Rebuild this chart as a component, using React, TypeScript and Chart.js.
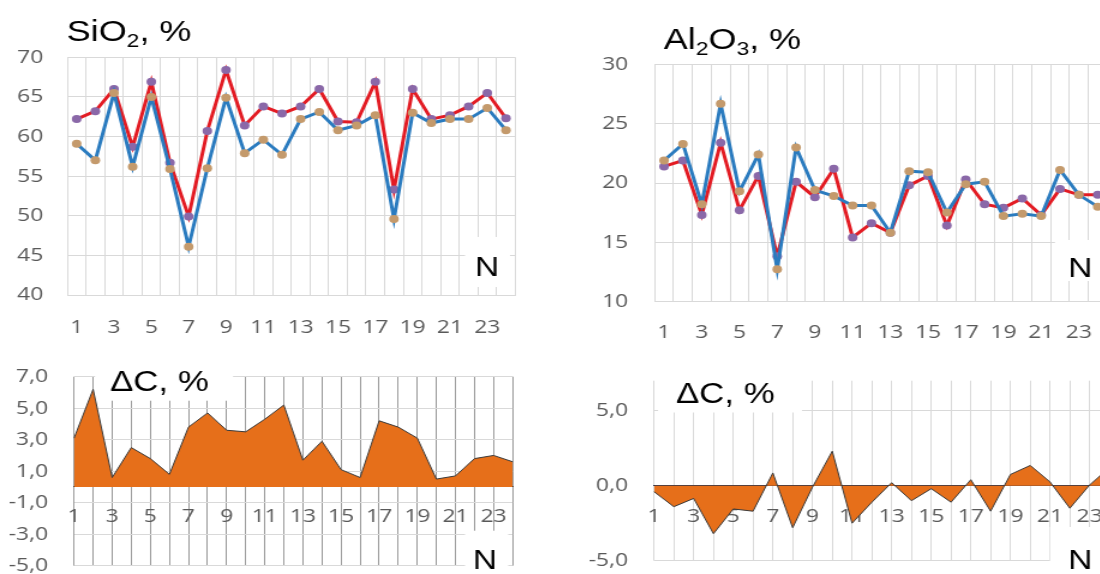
import React, { useEffect, useRef } from 'react';
import { Chart, registerables } from 'chart.js';
Chart.register(...registerables);

// horizontal stretch of the original figure
const S = 1.2;

const categories = ['1','2','3','4','5','6','7','8','9','10','11','12','13','14','15','16','17','18','19','20','21','22','23','24'];

const sio2Red = [62.2, 63.2, 66.0, 58.7, 66.9, 56.7, 49.9, 60.7, 68.4, 61.4, 63.8, 62.9, 63.8, 66.0, 61.9, 61.8, 66.9, 53.3, 66.0, 62.2, 62.7, 63.8, 65.5, 62.3];
const sio2Blue = [59.1, 57.0, 65.5, 56.2, 65.0, 55.9, 46.1, 56.0, 64.9, 57.9, 59.6, 57.7, 62.2, 63.1, 60.8, 61.4, 62.7, 49.6, 63.0, 61.7, 62.2, 62.2, 63.6, 60.8];

const al2o3Red = [21.4, 21.9, 17.3, 23.4, 17.7, 20.6, 13.8, 20.1, 18.8, 21.2, 15.4, 16.6, 15.8, 19.8, 20.6, 16.4, 20.3, 18.2, 17.9, 18.7, 17.3, 19.5, 19.0, 19.0];
const al2o3Blue = [21.9, 23.3, 18.2, 26.7, 19.3, 22.4, 12.7, 23.0, 19.4, 18.9, 18.1, 18.1, 15.8, 21.0, 20.9, 17.5, 19.9, 20.1, 17.2, 17.4, 17.2, 21.1, 19.0, 18.0];

const deltaSiO2 = [3.1, 6.2, 0.6, 2.5, 1.8, 0.8, 3.8, 4.7, 3.6, 3.5, 4.3, 5.2, 1.7, 2.9, 1.1, 0.6, 4.2, 3.8, 3.1, 0.5, 0.7, 1.8, 2.0, 1.6];
const deltaAl2O3 = [-0.4, -1.4, -0.85, -3.2, -1.55, -1.7, 0.85, -2.8, -0.1, 2.3, -2.5, -1.1, 0.2, -1.0, -0.2, -1.1, 0.4, -1.7, 0.75, 1.35, 0.25, -1.5, 0.05, 1.2];

const deltaTicks2 = [-5, 0, 5];

const RED = '#E31B23';
const BLUE = '#2A7BBF';
const PURPLE = '#8A68A8';
const TAN = '#C49A6C';
const ORANGE = '#E66F1A';
const GRID = '#d9d9d9';
const TICK = '#595959';
const TICK_FONT = { family: "'Open Sans', sans-serif", size: 19 };
const TEXT_FONT = '"Liberation Sans", Arial, sans-serif';

type Part = { t: string; size: number; dy?: number };
type Txt = { x: number; y: number; parts: Part[] };

function decor(boxes: number[][], texts: Txt[]) {
  return {
    id: 'decor',
    beforeDatasetsDraw(chart: any) {
      const ctx = chart.ctx;
      ctx.save();
      ctx.fillStyle = '#ffffff';
      boxes.forEach(([x, y, w, h]) => ctx.fillRect(x, y, w, h));
      ctx.restore();
    },
    afterDatasetsDraw(chart: any) {
      const ctx = chart.ctx;
      ctx.save();
      ctx.fillStyle = '#000000';
      ctx.textBaseline = 'alphabetic';
      ctx.textAlign = 'left';
      texts.forEach((tx) => {
        let x = tx.x;
        tx.parts.forEach((p) => {
          ctx.font = `${p.size}px ${TEXT_FONT}`;
          ctx.fillText(p.t, x, tx.y + (p.dy || 0));
          x += ctx.measureText(p.t).width;
        });
      });
      ctx.restore();
    },
  };
}

const oddLabel = (_v: any, i: number) => (i % 2 === 0 ? categories[i] : '');
const comma = (v: any) => Number(v).toFixed(1).replace('.', ',');

function lineConfig(o: {
  red: number[]; blue: number[]; min: number; max: number;
  left: number; right: number; top: number; xh: number; ypad: number; xpad: number;
  boxes: number[][]; texts: Txt[];
}) {
  return {
    type: 'line',
    data: {
      labels: categories,
      datasets: [
        { data: o.blue, borderColor: BLUE, borderWidth: 3, pointRadius: 4, pointBackgroundColor: TAN, pointBorderWidth: 0, tension: 0, order: 0 },
        { data: o.red, borderColor: RED, borderWidth: 3, pointRadius: 4, pointBackgroundColor: PURPLE, pointBorderWidth: 0, tension: 0, order: 1 },
      ],
    },
    options: {
      responsive: false,
      animation: false,
      events: [],
      layout: { padding: { left: 0, top: o.top, right: o.right, bottom: 0 } },
      plugins: { legend: { display: false }, tooltip: { enabled: false } },
      scales: {
        x: {
          type: 'category',
          offset: true,
          grid: { offset: true, color: GRID, drawTicks: false },
          border: { color: GRID },
          ticks: { autoSkip: false, maxRotation: 0, minRotation: 0, callback: oddLabel, color: TICK, font: TICK_FONT, padding: o.xpad },
          afterFit: (s: any) => { s.height = o.xh; },
        },
        y: {
          min: o.min, max: o.max,
          grid: { color: GRID, drawTicks: false },
          border: { color: GRID },
          ticks: { stepSize: 5, color: TICK, font: TICK_FONT, padding: o.ypad },
          afterFit: (s: any) => { s.width = o.left; },
        },
      },
    },
    plugins: [decor(o.boxes, o.texts)],
  };
}

function areaConfig(o: {
  data: number[]; step: number; fixedTicks?: number[];
  left: number; right: number; top: number; bottom: number; ypad: number; xpad: number;
  vgrid: string; zero: string; boxes: number[][]; texts: Txt[];
}) {
  return {
    type: 'line',
    data: {
      labels: categories,
      datasets: [
        { data: o.data, borderColor: '#3a3a3a', borderWidth: 1, backgroundColor: ORANGE, fill: 'origin', pointRadius: 0, tension: 0 },
      ],
    },
    options: {
      responsive: false,
      animation: false,
      events: [],
      layout: { padding: { left: 0, top: o.top, right: o.right, bottom: o.bottom } },
      plugins: { legend: { display: false }, tooltip: { enabled: false } },
      scales: {
        x: {
          type: 'category',
          position: { y: 0 },
          offset: false,
          grid: { color: o.vgrid, drawTicks: false },
          border: { color: o.zero, width: 1 },
          ticks: { autoSkip: false, maxRotation: 0, minRotation: 0, callback: oddLabel, color: TICK, font: TICK_FONT, padding: o.xpad },
        },
        y: {
          min: -5, max: 7,
          grid: { color: GRID, drawTicks: false },
          border: { display: false },
          ticks: { stepSize: o.step, color: TICK, font: TICK_FONT, padding: o.ypad, callback: comma },
          afterBuildTicks: o.fixedTicks ? (s: any) => { s.ticks = o.fixedTicks!.map((v) => ({ value: v })); } : undefined,
          afterFit: (s: any) => { s.width = o.left; },
        },
      },
    },
    plugins: [decor(o.boxes, o.texts)],
  };
}

function Panel({ left, top, width, height, make }: { left: number; top: number; width: number; height: number; make: () => any }) {
  const ref = useRef<HTMLCanvasElement>(null);
  const iw = Math.round(width / S);
  useEffect(() => {
    const chart = new Chart(ref.current as HTMLCanvasElement, make());
    return () => chart.destroy();
  }, []);
  return (
    <canvas
      ref={ref}
      width={iw}
      height={height}
      style={{ position: 'absolute', left, top, width: iw, height, transform: `scaleX(${S})`, transformOrigin: '0 0', display: 'block' }}
    />
  );
}

const BOTTOM_H = 270;

export default function App() {
  const c1 = () => lineConfig({
    red: sio2Red, blue: sio2Blue, min: 40, max: 70,
    left: 56.1, right: 458 - 429.4, top: 57.3, xh: 45, ypad: 20, xpad: 21,
    boxes: [[387.5, 237, 37.5, 50]],
    texts: [
      { x: 55.6, y: 40.7, parts: [{ t: 'SiO', size: 30 }, { t: '2', size: 19, dy: 6 }, { t: ', %', size: 30 }] },
      { x: 395.8, y: 275.7, parts: [{ t: 'N', size: 28 }] },
    ],
  });
  const c2 = () => lineConfig({
    red: al2o3Red, blue: al2o3Blue, min: 10, max: 30,
    left: 87.2, right: 500 - 464.3, top: 64.7, xh: 340 - 301.3, ypad: 22, xpad: 19.6,
    boxes: [[420.8, 240, 80, 41]],
    texts: [
      { x: 94.8, y: 49.3, parts: [{ t: 'Al', size: 30 }, { t: '2', size: 19, dy: 6 }, { t: 'O', size: 30 }, { t: '3', size: 19, dy: 6 }, { t: ', %', size: 30 }] },
      { x: 431.7, y: 277, parts: [{ t: 'N', size: 28 }] },
    ],
  });
  const c3 = () => areaConfig({
    data: deltaSiO2, step: 2,
    left: 61.7, right: 458 - 427.2, top: 36.7, bottom: BOTTOM_H - 225.7, ypad: 21.7, xpad: 18.6,
    vgrid: '#9a9a9a', zero: '#3a3a3a',
    boxes: [[79.2, 20, 115, 40.7], [387.5, 190.7, 36, 80]],
    texts: [
      { x: 91.7, y: 50.7, parts: [{ t: '\u0394C, %', size: 29 }] },
      { x: 394, y: 229, parts: [{ t: 'N', size: 28 }] },
    ],
  });
  const c4 = () => areaConfig({
    data: deltaAl2O3, step: 5, fixedTicks: deltaTicks2,
    left: 86.7, right: 500 - 466.2, top: 40.7, bottom: BOTTOM_H - 220.7, ypad: 21.7, xpad: 19.6,
    vgrid: GRID, zero: '#26304a',
    boxes: [[90, 28, 120, 44.5], [416.7, 187, 90, 80]],
    texts: [
      { x: 105, y: 63, parts: [{ t: '\u0394C, %', size: 29 }] },
      { x: 431.7, y: 229, parts: [{ t: 'N', size: 28 }] },
    ],
  });
  return (
    <div style={{ position: 'fixed', left: 0, top: 0, width: 1100, height: 574, overflow: 'hidden', background: '#ffffff' }}>
      <Panel left={0} top={0} width={550} height={340} make={c1} />
      <Panel left={550} top={0} width={600} height={340} make={c2} />
      <Panel left={0} top={340} width={550} height={BOTTOM_H} make={c3} />
      <Panel left={550} top={340} width={600} height={BOTTOM_H} make={c4} />
    </div>
  );
}
